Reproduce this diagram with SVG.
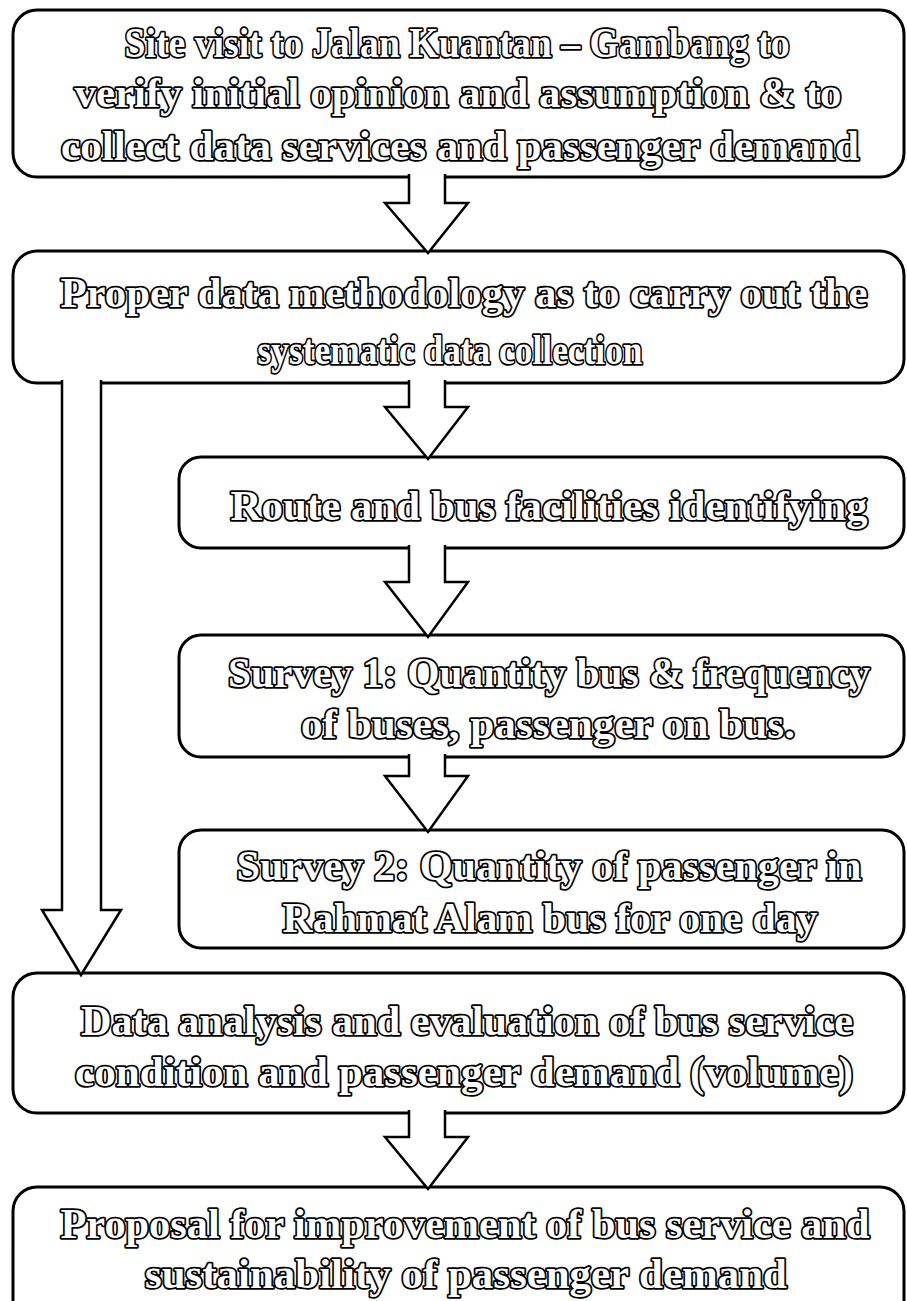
<svg xmlns="http://www.w3.org/2000/svg" width="907" height="1301" viewBox="0 0 907 1301">
<style>
.box{fill:#fff;stroke:#000;stroke-width:3}
.arr{fill:#fff;stroke:#000;stroke-width:2.5;stroke-linejoin:miter}
.t{font-family:"Liberation Serif",serif;font-weight:bold;font-size:43px;fill:#fff;stroke:#000;stroke-width:3.6;stroke-linejoin:round;paint-order:stroke fill;text-anchor:middle}
</style>
<rect width="907" height="1301" fill="#fff"/>
<g id="n1"><rect class="box" x="13" y="10" width="891" height="167" rx="24"/>
<text class="t" x="457" y="57" textLength="665" lengthAdjust="spacingAndGlyphs">Site visit to Jalan Kuantan – Gambang to</text>
<text class="t" x="458" y="107" textLength="767" lengthAdjust="spacingAndGlyphs">verify initial opinion and assumption &amp; to</text>
<text class="t" x="460" y="160" textLength="798" lengthAdjust="spacingAndGlyphs">collect data services and passenger demand</text></g>
<g id="n2"><rect class="box" x="13" y="251" width="891" height="132" rx="24"/>
<text class="t" x="464" y="307" textLength="807" lengthAdjust="spacingAndGlyphs">Proper data methodology as to carry out the</text>
<text class="t" x="450" y="364" textLength="385" lengthAdjust="spacingAndGlyphs">systematic data collection</text></g>
<g id="n3"><rect class="box" x="179" y="457" width="725" height="91" rx="22"/>
<text class="t" x="549" y="520" textLength="637" lengthAdjust="spacingAndGlyphs">Route and bus facilities identifying</text></g>
<g id="n4"><rect class="box" x="179" y="635" width="725" height="122" rx="22"/>
<text class="t" x="549" y="687" textLength="642" lengthAdjust="spacingAndGlyphs">Survey 1: Quantity bus &amp; frequency</text>
<text class="t" x="548" y="738" textLength="494" lengthAdjust="spacingAndGlyphs">of buses, passenger on bus.</text></g>
<g id="n5"><rect class="box" x="179" y="830" width="725" height="118" rx="22"/>
<text class="t" x="549" y="880" textLength="625" lengthAdjust="spacingAndGlyphs">Survey 2: Quantity of passenger in</text>
<text class="t" x="550" y="932" textLength="535" lengthAdjust="spacingAndGlyphs">Rahmat Alam bus for one day</text></g>
<g id="n6"><rect class="box" x="13" y="973" width="891" height="140" rx="24"/>
<text class="t" x="467" y="1035" textLength="772" lengthAdjust="spacingAndGlyphs">Data analysis and evaluation of bus service</text>
<text class="t" x="464" y="1086" textLength="778" lengthAdjust="spacingAndGlyphs">condition and passenger demand (volume)</text></g>
<g id="n7"><rect class="box" x="13" y="1187" width="891" height="160" rx="24"/>
<text class="t" x="465" y="1238" textLength="809" lengthAdjust="spacingAndGlyphs">Proposal for improvement of bus service and</text>
<text class="t" x="466" y="1288" textLength="642" lengthAdjust="spacingAndGlyphs">sustainability of passenger demand</text></g>
<g id="connectors">
<path class="arr" d="M409,174 V203 H385 L428,253 L468,203 H445 V174"/>
<path class="arr" d="M409,380 V407 H385 L428,459 L468,407 H445 V380"/>
<path class="arr" d="M409,545 V582 H385 L428,637 L468,582 H445 V545"/>
<path class="arr" d="M409,754 V776 H385 L428,832 L468,776 H445 V754"/>
<path class="arr" d="M409,1110 V1137 H385 L428,1189 L468,1137 H445 V1110"/>
<path class="arr" d="M62,380 V910 H42 L81,975 L121,910 H101 V380"/>
</g>
</svg>
